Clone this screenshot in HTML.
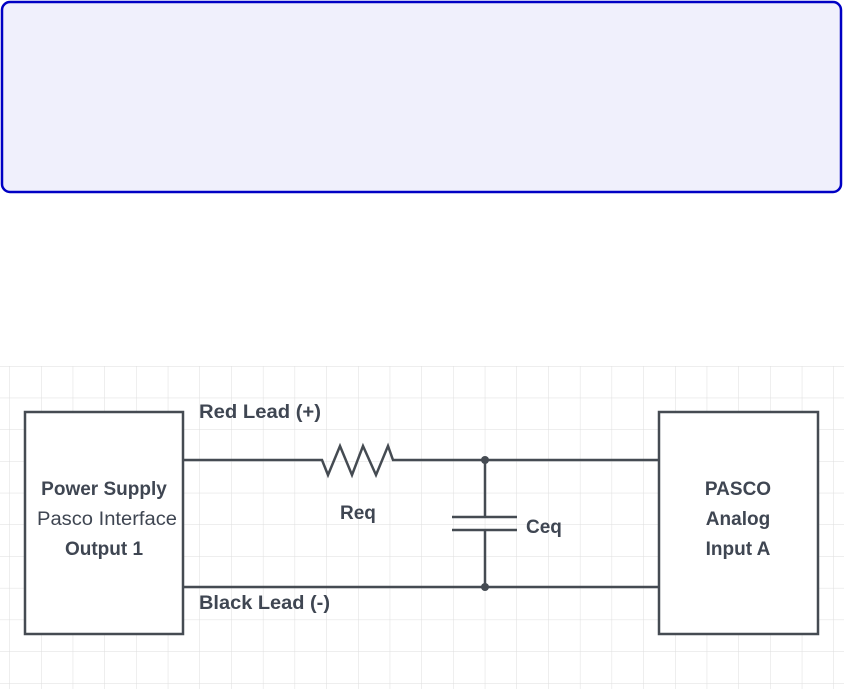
<!DOCTYPE html>
<html><head><style>
html,body{margin:0;padding:0;background:#fff;width:844px;height:689px;overflow:hidden}
</style></head><body>
<svg width="844" height="689" xmlns="http://www.w3.org/2000/svg" style="position:absolute;left:0;top:0">
<defs>
<pattern id="g" x="9.3" y="366" width="31.7" height="31.7" patternUnits="userSpaceOnUse">
<path d="M0 0 H31.7 M0 0 V31.7" stroke="#dedede" stroke-width="1" fill="none"/>
</pattern>
</defs>
<rect x="2" y="2" width="839" height="190" rx="8" fill="#f0f0fc" stroke="#0000c4" stroke-width="2.5"/>
<rect x="0" y="366" width="844" height="323" fill="url(#g)"/>
<g stroke="#454b52" stroke-width="2.5" fill="#fff">
<rect x="25" y="412" width="158" height="222"/>
<rect x="659" y="412" width="159" height="222"/>
</g>
<g stroke="#454b52" stroke-width="2.5" fill="none">
<polyline points="183,460 322,460 328,475 340,446 352,475 363,446 376,475 388,446 393,460 659,460"/>
<line x1="183" y1="587" x2="659" y2="587"/>
<line x1="485" y1="460" x2="485" y2="517"/>
<line x1="485" y1="530" x2="485" y2="587"/>
<line x1="452" y1="517" x2="517" y2="517"/>
<line x1="452" y1="530" x2="517" y2="530"/>
</g>
<circle cx="485" cy="460" r="4" fill="#454b52"/>
<circle cx="485" cy="587" r="4" fill="#454b52"/>
<g font-family="Liberation Sans, sans-serif" font-size="19" font-weight="bold" fill="#3f4652">
<text x="199" y="418" textLength="122" lengthAdjust="spacingAndGlyphs">Red Lead (+)</text>
<text x="199" y="609" textLength="131" lengthAdjust="spacingAndGlyphs">Black Lead (-)</text>
<text x="340" y="519">Req</text>
<text x="526" y="533">Ceq</text>
<text x="104" y="495" text-anchor="middle">Power Supply</text>
<text x="104" y="555" text-anchor="middle">Output 1</text>
<text x="738" y="495" text-anchor="middle">PASCO</text>
<text x="738" y="525" text-anchor="middle">Analog</text>
<text x="738" y="555" text-anchor="middle">Input A</text>
</g>
<text x="107" y="525" text-anchor="middle" font-family="Liberation Sans, sans-serif" font-size="19" fill="#3f4652" textLength="140" lengthAdjust="spacingAndGlyphs">Pasco Interface</text>
</svg>
</body></html>
